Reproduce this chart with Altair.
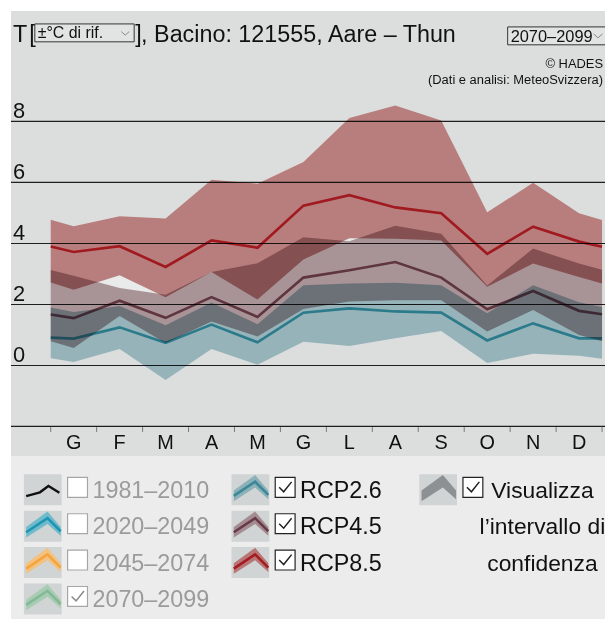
import altair as alt
import pandas as pd

FONT = "Liberation Sans"

# ---------------- data ----------------
# x: month index (1 = January ... 12 = December); 0.5 and 12.5 are the wrap-around edges
x_pos = [0.5, 1, 2, 3, 4, 5, 6, 7, 8, 9, 10, 11, 12, 12.5]
month_idx = [1, 2, 3, 4, 5, 6, 7, 8, 9, 10, 11, 12]
months = ["G", "F", "M", "A", "M", "G", "L", "A", "S", "O", "N", "D"]
tick_pos = [0.5, 1.5, 2.5, 3.5, 4.5, 5.5, 6.5, 7.5, 8.5, 9.5, 10.5, 11.5, 12.5]
y_ticks = [0, 2, 4, 6, 8]

rcp85_upper = [4.78, 4.56, 4.89, 4.82, 6.09, 5.96, 6.67, 8.11, 8.52, 8.03, 5.02, 5.99, 4.99, 4.77]
rcp85_median = [3.90, 3.72, 3.91, 3.23, 4.10, 3.86, 5.24, 5.58, 5.18, 4.99, 3.66, 4.55, 4.06, 3.89]
rcp85_lower = [2.72, 2.48, 2.96, 2.24, 3.06, 2.16, 3.47, 4.17, 4.15, 4.10, 2.58, 3.34, 2.90, 2.69]

rcp45_upper = [3.13, 2.94, 2.54, 2.32, 3.06, 3.35, 4.20, 4.07, 4.58, 4.32, 2.62, 3.83, 3.34, 3.14]
rcp45_median = [1.67, 1.55, 2.12, 1.56, 2.24, 1.59, 2.88, 3.12, 3.39, 2.88, 1.84, 2.44, 1.79, 1.68]
rcp45_lower = [0.79, 0.57, 1.62, 0.74, 1.44, 0.95, 1.85, 2.10, 2.14, 2.14, 1.11, 1.82, 1.00, 0.79]

rcp26_upper = [1.90, 1.75, 1.95, 1.32, 2.06, 1.35, 2.63, 2.69, 2.71, 2.63, 1.71, 2.63, 2.07, 1.92]
rcp26_median = [0.91, 0.88, 1.25, 0.74, 1.34, 0.76, 1.73, 1.87, 1.77, 1.73, 0.82, 1.38, 0.89, 0.89]
rcp26_lower = [0.24, 0.11, 0.54, -0.48, 0.54, 0.02, 0.78, 0.64, 0.89, 1.13, 0.08, 0.38, 0.32, 0.22]

scenarios = ["RCP2.6", "RCP4.5", "RCP8.5"]
periods = ["1981–2010", "2020–2049", "2045–2074", "2070–2099"]
period_checked = [False, False, False, True]

# ---------------- styles ----------------
BAND_MULT = ["#a4c3cb", "#b8a1a5", "#ca8989"]   # multiply factors for bands
LINE_MULT = ["#4aafbf", "#905c6b", "#de3340"]   # multiply factors for lines

frames = []
for name, lo, me, hi in [
    ("RCP2.6", rcp26_lower, rcp26_median, rcp26_upper),
    ("RCP4.5", rcp45_lower, rcp45_median, rcp45_upper),
    ("RCP8.5", rcp85_lower, rcp85_median, rcp85_upper),
]:
    frames.append(pd.DataFrame({"scenario": name, "x": x_pos, "lower": lo, "median": me, "upper": hi}))
df = pd.concat(frames, ignore_index=True)
hull = df.groupby("x", as_index=False).agg(lower=("lower", "min"), upper=("upper", "max"))

W, H = 598, 448
xs = alt.Scale(domain=[0.5 - 40 / 46.25, 12.5 + 3 / 46.25], nice=False, zero=False)
ys = alt.Scale(domain=[-(H - 356.8) / 30.71, 356.8 / 30.71], nice=False, zero=False)
X = lambda f: alt.X(f, scale=xs, axis=None)
Y = lambda f: alt.Y(f, scale=ys, axis=None)
ONE = pd.DataFrame({"k": [0]})

grid = alt.Chart(pd.DataFrame({"v": y_ticks})).mark_rule(color="#1e1e1e", strokeWidth=1.1).encode(y=Y("v:Q"))
ylabels = alt.Chart(pd.DataFrame({"v": y_ticks})).mark_text(
    align="left", baseline="alphabetic", dy=-3.5, fontSize=22, font=FONT, color="#111"
).encode(x=alt.value(2), y=Y("v:Q"), text=alt.Text("v:Q"))

underlay = alt.Chart(hull).mark_area(color="white", opacity=0.38).encode(
    x=X("x:Q"), y=Y("lower:Q"), y2="upper:Q")

bands = alt.Chart(df).mark_area(blend="multiply", opacity=1).encode(
    x=X("x:Q"), y=Y("lower:Q"), y2="upper:Q",
    fill=alt.Fill("scenario:N", scale=alt.Scale(domain=scenarios, range=BAND_MULT), legend=None),
    detail="scenario:N")
lines = alt.Chart(df).mark_line(blend="multiply", strokeWidth=2.7, opacity=1).encode(
    x=X("x:Q"), y=Y("median:Q"),
    stroke=alt.Stroke("scenario:N", scale=alt.Scale(domain=scenarios, range=LINE_MULT), legend=None),
    detail="scenario:N")

axis_line = alt.Chart(ONE).mark_rule(color="#1e1e1e", strokeWidth=1.3).encode(y=alt.datum(-2, scale=ys, axis=None))
ticks = alt.Chart(pd.DataFrame({"t": tick_pos})).mark_rule(color="#777", strokeWidth=1).encode(
    x=X("t:Q"), y=alt.Y(datum=-2.02, scale=ys, axis=None), y2=alt.datum(-2.18))
mlabels = alt.Chart(pd.DataFrame({"m": month_idx, "lab": months})).mark_text(
    baseline="alphabetic", dy=22.5, fontSize=20, font=FONT, color="#111"
).encode(x=X("m:Q"), y=alt.datum(-2, scale=ys, axis=None), text="lab:N")


def txt(s, x, y, size, color="#111", align="left", clip=False):
    return alt.Chart(ONE).mark_text(align=align, baseline="alphabetic", fontSize=size, font=FONT,
                                    color=color, clip=clip).encode(
        x=alt.value(x), y=alt.value(y), text=alt.value(s))


CHEV = "M-1,-0.45 L0,0.45 L1,-0.45"
box1 = alt.Chart(ONE).mark_rect(fill="#e2e3e3", stroke="#333", strokeWidth=1).encode(
    x=alt.value(24), x2=alt.value(124), y=alt.value(13), y2=alt.value(31))
chev1 = alt.Chart(ONE).mark_point(shape=CHEV, filled=False, size=64, stroke="#888", strokeWidth=1, opacity=1).encode(
    x=alt.value(115), y=alt.value(22.5))
box2 = alt.Chart(ONE).mark_rect(fill="#e2e3e3", stroke="#333", strokeWidth=1, clip=True).encode(
    x=alt.value(500), x2=alt.value(640), y=alt.value(16), y2=alt.value(34))
chev2 = alt.Chart(ONE).mark_point(shape=CHEV, filled=False, size=81, stroke="#888", strokeWidth=1, opacity=1).encode(
    x=alt.value(591), y=alt.value(25))

title_parts = [
    txt("T", 2, 31, 23.5),
    txt("[", 18.5, 31, 23.5),
    box1,
    txt("±°C di rif.", 27, 27.5, 16),
    chev1,
    txt("]", 125, 31, 23.5),
    txt(", Bacino: 121555, Aare – Thun", 131, 31, 23.5),
    box2,
    txt("2070–2099", 503, 31, 16.5),
    chev2,
    txt("© HADES", 596, 57.5, 13, align="right"),
    txt("(Dati e analisi: MeteoSvizzera)", 596, 73.5, 13, align="right"),
]

main = alt.layer(underlay, grid, bands, lines, axis_line, ticks, mlabels, ylabels, *title_parts).properties(
    width=W, height=H, view=alt.ViewBackground(fill="#dcdedd", stroke=None)
).resolve_scale(fill="independent", stroke="independent")

# ---------------- legend ----------------
leg_rows = []
for i, p in enumerate(periods):
    leg_rows.append({"label": p, "col": 0, "row": i, "state": "disabled" if period_checked[i] else "off"})
for i, s in enumerate(scenarios):
    leg_rows.append({"label": s, "col": 1, "row": i, "state": "on"})
leg_rows.append({"label": "conf", "col": 2, "row": 0, "state": "on"})
leg = pd.DataFrame(leg_rows)

conf_lines = pd.DataFrame({"txt": ["Visualizza", "l’intervallo di", "confidenza"], "col": [2, 2, 2], "row": [0, 1, 2]})

LX = alt.Scale(domain=[0, 1, 2], range=[32, 241, 430], nice=False, zero=False)
LY = alt.Scale(domain=[0, 3], range=[34, 143.8], nice=False, zero=False)
LXe = alt.X("col:Q", scale=LX, axis=None)
LYe = alt.Y("row:Q", scale=LY, axis=None)

ICON_BG = "M-1,-0.82 L1,-0.82 L1,0.82 L-1,0.82 Z"
ICON_BAND = "M-0.88,0.04 L0.25,-0.78 L0.95,0.04 L0.95,0.5 L0.25,-0.12 L-0.88,0.6 Z"
ICON_LINE = "M-0.88,0.32 L0.25,-0.43 L0.95,0.27"
ICON_LINE0 = "M-0.88,0.33 L-0.15,0.13 L0.3,-0.2 L0.88,0.16"
SQUARE = "M-1,-1 L1,-1 L1,1 L-1,1 Z"
CHECK = "M-0.6,0.0 L-0.15,0.45 L0.65,-0.55"

band_labels = ["2020–2049", "2045–2074", "2070–2099", "RCP2.6", "RCP4.5", "RCP8.5", "conf"]
band_cols = ["#6fbacb", "#f2c283", "#a8ccb2", "#8db1b8", "#a48d92", "#b87676", "#8e9193"]
line_labels = ["2020–2049", "2045–2074", "2070–2099", "RCP2.6", "RCP4.5", "RCP8.5"]
line_cols = ["#1d95b3", "#f6a43c", "#82b996", "#3b8898", "#693a48", "#a31c22"]

icon_bg = alt.Chart(leg).mark_point(shape=ICON_BG, size=1444, filled=True, color="#d1d4d4", opacity=1).encode(
    x=LXe, y=LYe)
icon_band = alt.Chart(leg).transform_filter(alt.FieldOneOfPredicate(field="label", oneOf=band_labels)).mark_point(
    shape=ICON_BAND, size=1444, filled=True, opacity=1).encode(
    x=LXe, y=LYe, color=alt.Color("label:N", scale=alt.Scale(domain=band_labels, range=band_cols), legend=None))
icon_line = alt.Chart(leg).transform_filter(alt.FieldOneOfPredicate(field="label", oneOf=line_labels)).mark_point(
    shape=ICON_LINE, size=1444, filled=False, strokeWidth=2.6, opacity=1).encode(
    x=LXe, y=LYe, stroke=alt.Stroke("label:N", scale=alt.Scale(domain=line_labels, range=line_cols), legend=None))
icon_line0 = alt.Chart(leg).transform_filter(alt.datum.label == periods[0]).mark_point(
    shape=ICON_LINE0, size=1444, filled=False, strokeWidth=2.4, opacity=1, stroke="#111").encode(x=LXe, y=LYe)

state_dom = ["on", "off", "disabled"]
cbox = alt.Chart(leg).mark_point(shape=SQUARE, size=400, filled=False, fill="white", fillOpacity=1,
                                  strokeWidth=1.2, opacity=1, xOffset=35, yOffset=-2.5).encode(
    x=LXe, y=LYe, stroke=alt.Stroke("state:N", scale=alt.Scale(domain=state_dom, range=["#222", "#a6a6a6", "#a6a6a6"]), legend=None))
check = alt.Chart(leg).transform_filter(alt.datum.state != "off").mark_point(
    shape=CHECK, size=400, filled=False, strokeWidth=1.5, opacity=1, xOffset=35, yOffset=-2.5).encode(
    x=LXe, y=LYe, stroke=alt.Stroke("state:N", scale=alt.Scale(domain=state_dom, range=["#222", "#a6a6a6", "#8a8a8a"]), legend=None))
labels = alt.Chart(leg).transform_filter(alt.datum.label != "conf").mark_text(
    align="left", baseline="alphabetic", dx=50, dy=8.3, fontSize=23.5, font=FONT).encode(
    x=LXe, y=LYe, text="label:N",
    color=alt.Color("state:N", scale=alt.Scale(domain=state_dom, range=["#111", "#9b9b9b", "#9b9b9b"]), legend=None))
conf_text = alt.Chart(conf_lines).mark_text(
    align="center", baseline="alphabetic", dx=105, dy=8.3, fontSize=23, font=FONT, color="#111").encode(
    x=LXe, y=LYe, text="txt:N")

legend = alt.layer(icon_bg, icon_band, icon_line, icon_line0, cbox, check, labels, conf_text).properties(
    width=W, height=164, view=alt.ViewBackground(fill="#ebeceb", stroke=None)).resolve_scale(color="independent", stroke="independent")

chart = alt.vconcat(main, legend, spacing=0).properties(
    padding={"left": 2, "top": 1, "right": 0, "bottom": 0}, background="white"
).configure_view(stroke=None)

chart.save("out.html", embed_options={"renderer": "svg", "actions": False})
